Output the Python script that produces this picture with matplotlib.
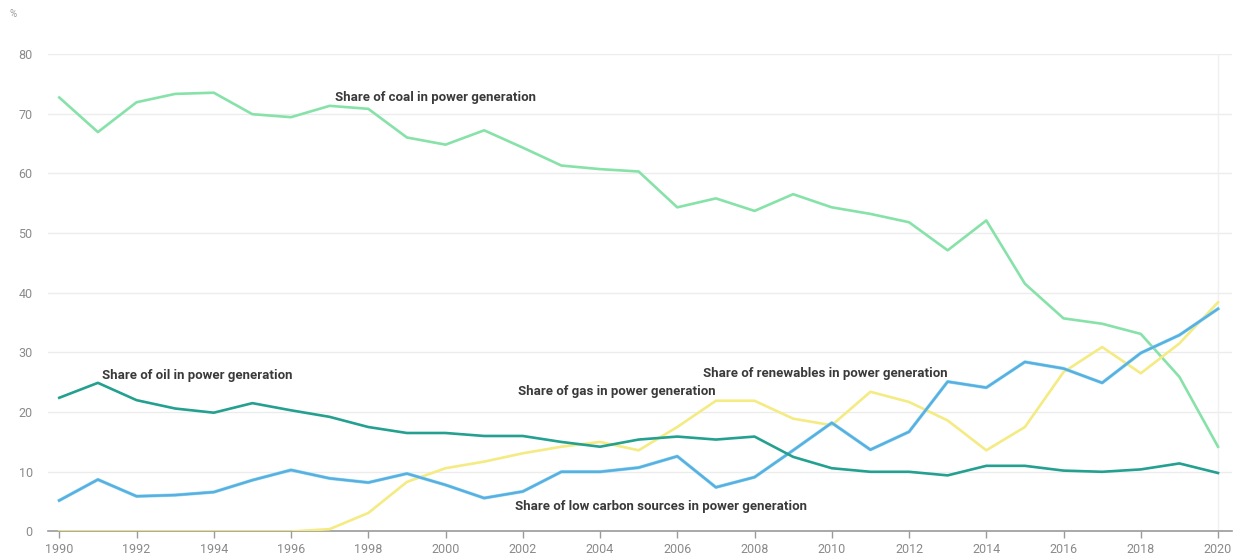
import matplotlib
matplotlib.use("Agg")
import matplotlib.pyplot as plt

years = list(range(1990, 2021))

coal = [72.7, 66.9, 71.9, 73.3, 73.5, 69.9, 69.4, 71.3, 70.8, 66.0,
        64.8, 67.2, 64.3, 61.3, 60.7, 60.3, 54.3, 55.8, 53.7, 56.5,
        54.3, 53.2, 51.8, 47.1, 52.1, 41.5, 35.7, 34.8, 33.1, 25.9, 14.2]

oil = [22.4, 24.9, 22.0, 20.6, 19.9, 21.5, 20.3, 19.2, 17.5, 16.5,
       16.5, 16.0, 16.0, 15.0, 14.2, 15.4, 15.9, 15.4, 15.9, 12.5,
       10.6, 10.0, 10.0, 9.4, 11.0, 11.0, 10.2, 10.0, 10.4, 11.4, 9.8]

gas = [0.0, 0.0, 0.0, 0.0, 0.0, 0.0, 0.0, 0.4, 3.1, 8.3,
       10.6, 11.7, 13.1, 14.2, 15.0, 13.6, 17.5, 21.9, 21.9, 18.9,
       17.8, 23.4, 21.7, 18.6, 13.6, 17.5, 26.7, 30.9, 26.5, 31.5, 38.4]

renewables = [5.2, 8.7, 5.9, 6.1, 6.6, 8.6, 10.3, 8.9, 8.2, 9.7,
              7.8, 5.6, 6.7, 10.0, 10.0, 10.7, 12.6, 7.4, 9.1, 13.6,
              18.2, 13.7, 16.7, 25.1, 24.1, 28.4, 27.3, 24.9, 29.9, 32.9, 37.3]

low_carbon = list(renewables)

year_ticks = list(range(1990, 2021, 2))
value_ticks = [0, 10, 20, 30, 40, 50, 60, 70, 80]

plt.rcParams["font.family"] = ["Roboto", "DejaVu Sans"]

fig = plt.figure(figsize=(12.36, 5.58), dpi=100)
ax = fig.add_axes([0.0388, 0.0475, 0.958, 0.8559])

ax.set_xlim(1989.707, 2020.363)
ax.set_ylim(0, 80)

# horizontal grid
for v in value_ticks[1:]:
    ax.axhline(v, color="#ececec", lw=1.0, zorder=0)
# faint marker at the last year
ax.axvline(2020, color="#f0f0f0", lw=1.0, zorder=0)

lw = 1.9
ax.plot(years, coal, color="#86e2a8", lw=lw, zorder=3, solid_joinstyle="round")
ax.plot(years, gas, color="#f4eb83", lw=lw, zorder=3, solid_joinstyle="round")
ax.plot(years, renewables, color="#8adcf2", lw=lw + 0.5, zorder=3, solid_joinstyle="round")
ax.plot(years, low_carbon, color="#5aaee0", lw=lw - 0.2, zorder=4, solid_joinstyle="round")
ax.plot(years, oil, color="#23a08f", lw=lw, zorder=5, solid_joinstyle="round")

label_kw = dict(fontsize=9.5, fontweight="bold", color="#3a3a3a", va="center", ha="left", zorder=6)
ax.text(1997.14, 72.7, "Share of coal in power generation", **label_kw)
ax.text(1991.1, 26.2, "Share of oil in power generation", **label_kw)
ax.text(2001.88, 23.4, "Share of gas in power generation", **label_kw)
ax.text(2006.67, 26.5, "Share of renewables in power generation", **label_kw)
ax.text(2001.8, 4.15, "Share of low carbon sources in power generation", **label_kw)

# axes styling
for s in ["top", "right", "left"]:
    ax.spines[s].set_visible(False)
ax.spines["bottom"].set_color("#9a9a9a")
ax.spines["bottom"].set_linewidth(1.2)

ax.set_xticks(year_ticks)
ax.set_xticklabels([str(y) for y in year_ticks])
ax.set_yticks(value_ticks)
ax.set_yticklabels([str(v) for v in value_ticks])
ax.tick_params(axis="x", length=5, width=1, color="#9a9a9a", labelsize=9,
               labelcolor="#8a8a8a", pad=3)
ax.tick_params(axis="y", length=0, labelsize=9, labelcolor="#8a8a8a", pad=11)

fig.text(0.0105, 0.975, "%", fontsize=7, color="#9a9a9a", va="center", ha="center")

fig.savefig("out.png", dpi=100, facecolor="white")
